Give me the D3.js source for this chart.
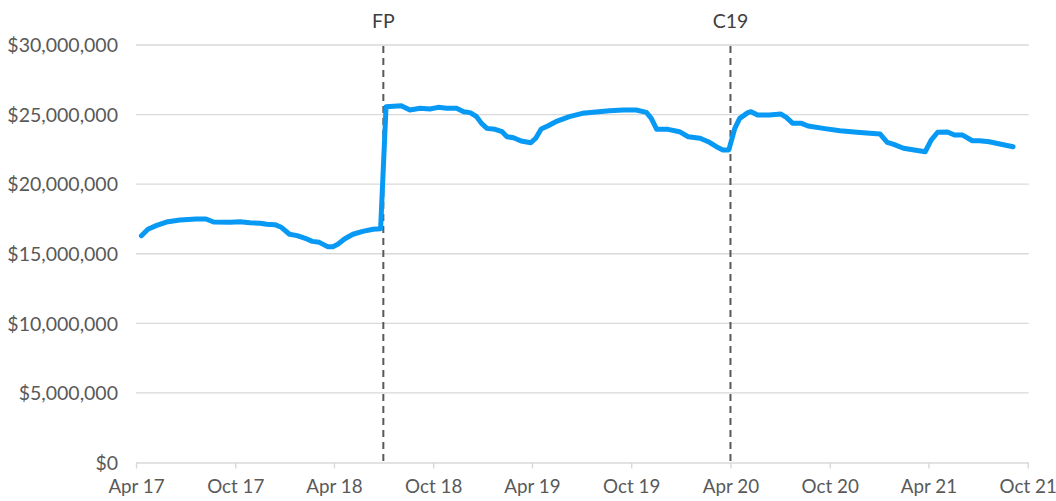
<!DOCTYPE html>
<html><head><meta charset="utf-8">
<script src="https://cdn.jsdelivr.net/npm/d3@7"></script>
<style>
html,body{margin:0;padding:0;background:#fff;}
svg text{font-family:Lato,"Open Sans",sans-serif;}
</style></head>
<body><svg id="c" width="1056" height="501"></svg>
<script>
const dates = ["2017-04-11","2017-04-23","2017-05-08","2017-05-27","2017-06-21","2017-07-21","2017-08-08","2017-08-22","2017-09-22","2017-10-10","2017-10-28","2017-11-16","2017-11-28","2017-12-13","2017-12-25",
"2018-01-09","2018-01-23","2018-02-07","2018-02-20","2018-03-05","2018-03-20","2018-03-30","2018-04-08","2018-04-21","2018-05-06","2018-05-24","2018-06-12","2018-06-26","2018-07-06","2018-08-03","2018-08-19","2018-09-07","2018-09-25","2018-10-10","2018-10-26","2018-11-13","2018-11-26","2018-12-08","2018-12-20","2018-12-29",
"2019-01-08","2019-01-23","2019-02-05","2019-02-14","2019-02-26","2019-03-12","2019-03-30","2019-04-08","2019-04-18","2019-04-30","2019-05-15","2019-06-09","2019-07-03","2019-07-28","2019-08-22","2019-09-16","2019-10-10","2019-10-29","2019-11-07","2019-11-17","2019-12-08","2019-12-29",
"2020-01-14","2020-02-05","2020-02-20","2020-03-06","2020-03-18","2020-03-29","2020-04-09","2020-04-18","2020-05-03","2020-05-09","2020-05-21","2020-06-12","2020-07-03","2020-07-13","2020-07-25","2020-08-10","2020-08-22","2020-09-19","2020-10-20","2020-11-20","2020-12-14",
"2021-01-02","2021-01-15","2021-01-27","2021-02-14","2021-03-06","2021-03-26","2021-04-06","2021-04-18","2021-05-06","2021-05-19","2021-06-03","2021-06-21","2021-07-04","2021-07-22","2021-08-04","2021-09-04"];
const values = [16.30,16.76,17.02,17.28,17.43,17.50,17.50,17.28,17.26,17.30,17.23,17.19,17.12,17.09,16.90,
16.40,16.30,16.11,15.89,15.82,15.51,15.51,15.68,16.08,16.40,16.61,16.76,16.80,25.57,25.64,25.33,25.45,25.40,25.52,25.45,25.45,25.21,25.14,24.85,24.37,
24.01,23.94,23.77,23.41,23.34,23.10,22.98,23.30,23.96,24.18,24.49,24.85,25.09,25.19,25.28,25.33,25.33,25.16,24.73,23.94,23.94,23.77,
23.41,23.30,23.05,22.69,22.46,22.46,24.01,24.73,25.14,25.21,24.97,24.97,25.04,24.80,24.37,24.37,24.18,24.01,23.84,23.73,23.66,
23.60,23.01,22.86,22.58,22.46,22.33,23.17,23.73,23.75,23.53,23.53,23.12,23.12,23.05,22.94,22.69];
const xTickDates = ["2017-04-01","2017-10-01","2018-04-01","2018-10-01","2019-04-01","2019-10-01","2020-04-01","2020-10-01","2021-04-01","2021-10-01"];
const xTickLabels = ["Apr 17","Oct 17","Apr 18","Oct 18","Apr 19","Oct 19","Apr 20","Oct 20","Apr 21","Oct 21"];
const yTicks = [0,5000000,10000000,15000000,20000000,25000000,30000000];
const eventDates = ["2018-07-01","2020-04-01"];
const eventLabels = ["FP","C19"];

const parse = d3.utcParse("%Y-%m-%d");
const data = dates.map((d,i)=>({date:parse(d), value:values[i]*1e6}));
const svg = d3.select("#c");
const L=136, R=1027.7, T=45, B=462.5;
const x = d3.scaleUtc().domain([parse(xTickDates[0]), parse(xTickDates[xTickDates.length-1])]).range([L,R]);
const y = d3.scaleLinear().domain([0,30000000]).range([B,T]);
const textCol = "#595959", gridCol = "#d9d9d9";
const fs = "19.5px";

// gridlines
svg.append("g").selectAll("line").data(yTicks.filter(v=>v>0)).join("line")
  .attr("x1",L).attr("x2",R+1).attr("y1",d=>y(d)).attr("y2",d=>y(d))
  .attr("stroke",gridCol).attr("stroke-width",1.4);

// y axis labels
const yAxis = d3.axisLeft(y).tickValues(yTicks).tickFormat(d3.format("$,.0f")).tickSize(0).tickPadding(18);
const gy = svg.append("g").attr("transform",`translate(${L},0)`).call(yAxis);
gy.select(".domain").remove();
gy.selectAll("text").attr("fill",textCol).style("font-size",fs).attr("dy","0.35em");

// x axis
const xAxis = d3.axisBottom(x).tickValues(xTickDates.map(parse)).tickFormat((d,i)=>xTickLabels[i]).tickSizeOuter(0).tickSize(6).tickPadding(11);
const gx = svg.append("g").attr("transform",`translate(0,${B})`).call(xAxis);
gx.select(".domain").attr("stroke",gridCol).attr("stroke-width",1.4).attr("d",`M${L},0.5H${R+1}`);
gx.selectAll(".tick line").attr("stroke",gridCol).attr("stroke-width",1.4);
gx.selectAll("text").attr("fill",textCol).style("font-size","18.8px");

// event lines
const ev = svg.append("g").selectAll("g").data(eventDates.map((d,i)=>({d:parse(d),l:eventLabels[i]}))).join("g");
ev.append("line").attr("x1",d=>x(d.d)).attr("x2",d=>x(d.d)).attr("y1",T+1).attr("y2",B)
  .attr("stroke",textCol).attr("stroke-width",2).attr("stroke-dasharray","7,5");
ev.append("text").attr("x",d=>x(d.d)).attr("y",21).attr("dy","0.35em").attr("text-anchor","middle")
  .attr("fill","#404040").style("font-size",fs).text(d=>d.l);

// line
const line = d3.line().x(d=>x(d.date)).y(d=>y(d.value));
svg.append("path").datum(data).attr("d",line).attr("fill","none")
  .attr("stroke","#0899f5").attr("stroke-width",5).attr("stroke-linejoin","round").attr("stroke-linecap","round");
</script></body></html>
